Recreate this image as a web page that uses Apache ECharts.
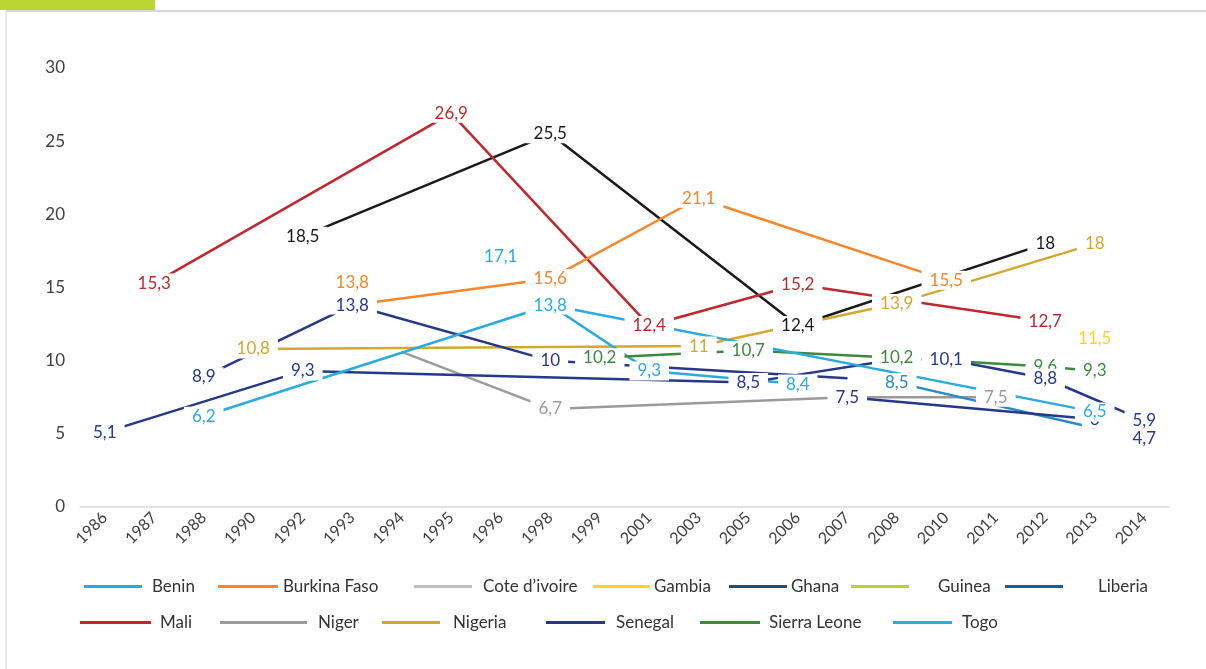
<!DOCTYPE html>
<html>
<head>
<meta charset="utf-8">
<script src="https://cdn.jsdelivr.net/npm/echarts@6/dist/echarts.min.js"></script>
<style>
  html, body { margin: 0; padding: 0; background: #fff; }
  #chart { width: 1206px; height: 669px; }
</style>
</head>
<body>
<div id="chart"></div>
<script>
// categories (x axis)
const years = ['1986','1987','1988','1990','1992','1993','1994','1995','1996','1998','1999',
  '2001','2003','2005','2006','2007','2008','2010','2011','2012','2013','2014'];
const yTicks = [0, 5, 10, 15, 20, 25, 30];

// values: [year, value]
const benin = [['1988', 6.2], ['1998', 13.8], ['2013', 6.5]];
const burkinaFaso = [['1993', 13.8], ['1998', 15.6], ['2003', 21.1], ['2010', 15.5]];
const coteDivoire = [];
const gambia = [['2013', 11.5]];
const ghana = [['1992', 18.5], ['1998', 25.5], ['2006', 12.4], ['2012', 18]];
const guinea = [];
const liberia = [['2008', 8.5], ['2013', 5.4]];
const mali = [['1987', 15.3], ['1995', 26.9], ['2001', 12.4], ['2006', 15.2], ['2012', 12.7]];
const niger = [['1994', 10.6], ['1998', 6.7], ['2007', 7.5], ['2011', 7.5]];
const nigeria = [['1990', 10.8], ['2003', 11], ['2008', 13.9], ['2013', 18]];
const senegal = [['1986', 5.1], ['1992', 9.3], ['2005', 8.5], ['2008', 10.1], ['2010', 10.1], ['2012', 8.8], ['2014', 5.9]];
const sierraLeone = [['1999', 10.2], ['2005', 10.7], ['2008', 10.2], ['2012', 9.6], ['2013', 9.3]];
const togo = [['1998', 13.8], ['2001', 9.3], ['2006', 8.4]];
// extra lines drawn in the chart but not in the legend
const senegalB = [['1988', 8.9], ['1993', 13.8], ['1998', 10], ['2007', 8.8]];
const senegalC = [['2007', 7.5], ['2013', 6]];
const togoB = [['1996', 17.1]];
const senegalD = [['2014', 4.7]];

// points whose label is not shown in the picture
const hiddenLabels = {
  'Liberia': ['2013'], 'Niger': ['1994', '2007'], 'Senegal': ['2008'],
  'Togo': ['1998'], 'Senegal B': ['2007']
};
// label moved away from its point (as in the picture)
const labelShift = { 'Burkina Faso': { '1993': [0, -23] } };

const lines = [
  { name: 'Cote d’ivoire', pts: coteDivoire, color: '#BFBFBF' },
  { name: 'Guinea', pts: guinea, color: '#B8D432' },
  { name: 'Niger', pts: niger, color: '#9B9B9B' },
  { name: 'Ghana', pts: ghana, color: '#1A1A1A' },
  { name: 'Mali', pts: mali, color: '#C1272D' },
  { name: 'Burkina Faso', pts: burkinaFaso, color: '#F7862B' },
  { name: 'Nigeria', pts: nigeria, color: '#D4A82C' },
  { name: 'Togo', pts: togo, color: '#29ABE2' },
  { name: 'Togo B', pts: togoB, color: '#29ABE2' },
  { name: 'Liberia', pts: liberia, color: '#2A8CC4' },
  { name: 'Sierra Leone', pts: sierraLeone, color: '#3C8B3C' },
  { name: 'Senegal B', pts: senegalB, color: '#26388C' },
  { name: 'Senegal', pts: senegal, color: '#26388C' },
  { name: 'Senegal C', pts: senegalC, color: '#26388C' },
  { name: 'Senegal D', pts: senegalD, color: '#26388C' },
  { name: 'Benin', pts: benin, color: '#29ABE2' },
  { name: 'Gambia', pts: gambia, color: '#FFD320' }
];

// legend as in the picture: [name, icon colour, icon left, icon width, text gap, row top]
const legendItems = [
  ['Benin', '#29ABE2', 84, 58, 10, 578],
  ['Burkina Faso', '#F7862B', 218, 60, 5, 578],
  ['Cote d’ivoire', '#BFBFBF', 414, 58, 11, 578],
  ['Gambia', '#FFD320', 593, 57, 4, 578],
  ['Ghana', '#1F4E79', 729, 58, 4, 578],
  ['Guinea', '#B8D432', 851, 58, 29, 578],
  ['Liberia', '#1D5C8F', 1005, 58, 35, 578],
  ['Mali', '#C1272D', 80, 71, 9, 614],
  ['Niger', '#9B9B9B', 220, 87, 11, 614],
  ['Nigeria', '#D4A82C', 382, 58, 13, 614],
  ['Senegal', '#26388C', 546, 59, 11, 614],
  ['Sierra Leone', '#3C8B3C', 700, 60, 9, 614],
  ['Togo', '#29ABE2', 893, 59, 10, 614]
];

const FONT = 'Lato, "Open Sans", sans-serif';

function buildData(line) {
  const data = years.map(() => null);
  const hide = hiddenLabels[line.name] || [];
  const shift = labelShift[line.name] || {};
  line.pts.forEach(([yr, v]) => {
    const i = years.indexOf(yr);
    if (hide.includes(yr)) {
      data[i] = { value: v, label: { show: false } };
    } else if (shift[yr]) {
      data[i] = { value: v, label: { offset: shift[yr] } };
    } else {
      data[i] = v;
    }
  });
  return data;
}

const series = lines.map(l => ({
  name: l.name,
  type: 'line',
  data: buildData(l),
  connectNulls: true,
  symbol: 'circle',
  symbolSize: 1,
  showAllSymbol: true,
  lineStyle: { color: l.color, width: 2.5 },
  itemStyle: { color: l.color },
  label: {
    show: true,
    position: 'inside',
    color: l.color,
    fontFamily: FONT,
    fontSize: 17,
    backgroundColor: '#fff',
    padding: [1, 8],
    formatter: p => String(p.value).replace('.', ',')
  },
  emphasis: { disabled: true }
}));

const legends = legendItems.map(([name, color, left, w, gap, top]) => ({
  data: [{ name: name, icon: 'rect', itemStyle: { color: color } }],
  left: left,
  top: top,
  padding: 0,
  itemWidth: w,
  itemHeight: 3,
  selectedMode: false,
  textStyle: { fontFamily: FONT, fontSize: 17, color: '#333', padding: [0, 0, 0, gap - 5] }
}));

const chart = echarts.init(document.getElementById('chart'));
chart.setOption({
  animation: false,
  backgroundColor: '#fff',
  grid: { left: 80, right: 37, top: 68, bottom: 162, containLabel: false },
  legend: legends,
  graphic: [
    { type: 'rect', shape: { x: 0, y: 0, width: 155, height: 10 }, style: { fill: '#BCD431' } },
    { type: 'line', shape: { x1: 6, y1: 11, x2: 1206, y2: 11 }, style: { stroke: '#C8C8C8', lineWidth: 1.5 } },
    { type: 'line', shape: { x1: 6, y1: 11, x2: 6, y2: 669 }, style: { stroke: '#D0D0D0', lineWidth: 1 } }
  ],
  xAxis: {
    type: 'category',
    data: years,
    boundaryGap: true,
    axisLine: { lineStyle: { color: '#D9D9D9', width: 1.5 } },
    axisTick: { show: false },
    axisLabel: { interval: 0, rotate: 45, margin: 8, fontFamily: FONT, fontSize: 16, color: '#404040' }
  },
  yAxis: {
    type: 'value',
    min: yTicks[0],
    max: yTicks[yTicks.length - 1],
    interval: yTicks[1] - yTicks[0],
    axisLine: { show: false },
    axisTick: { show: false },
    splitLine: { show: false },
    axisLabel: { margin: 15, fontFamily: FONT, fontSize: 17, color: '#404040' }
  },
  series: series
});
</script>
</body>
</html>
